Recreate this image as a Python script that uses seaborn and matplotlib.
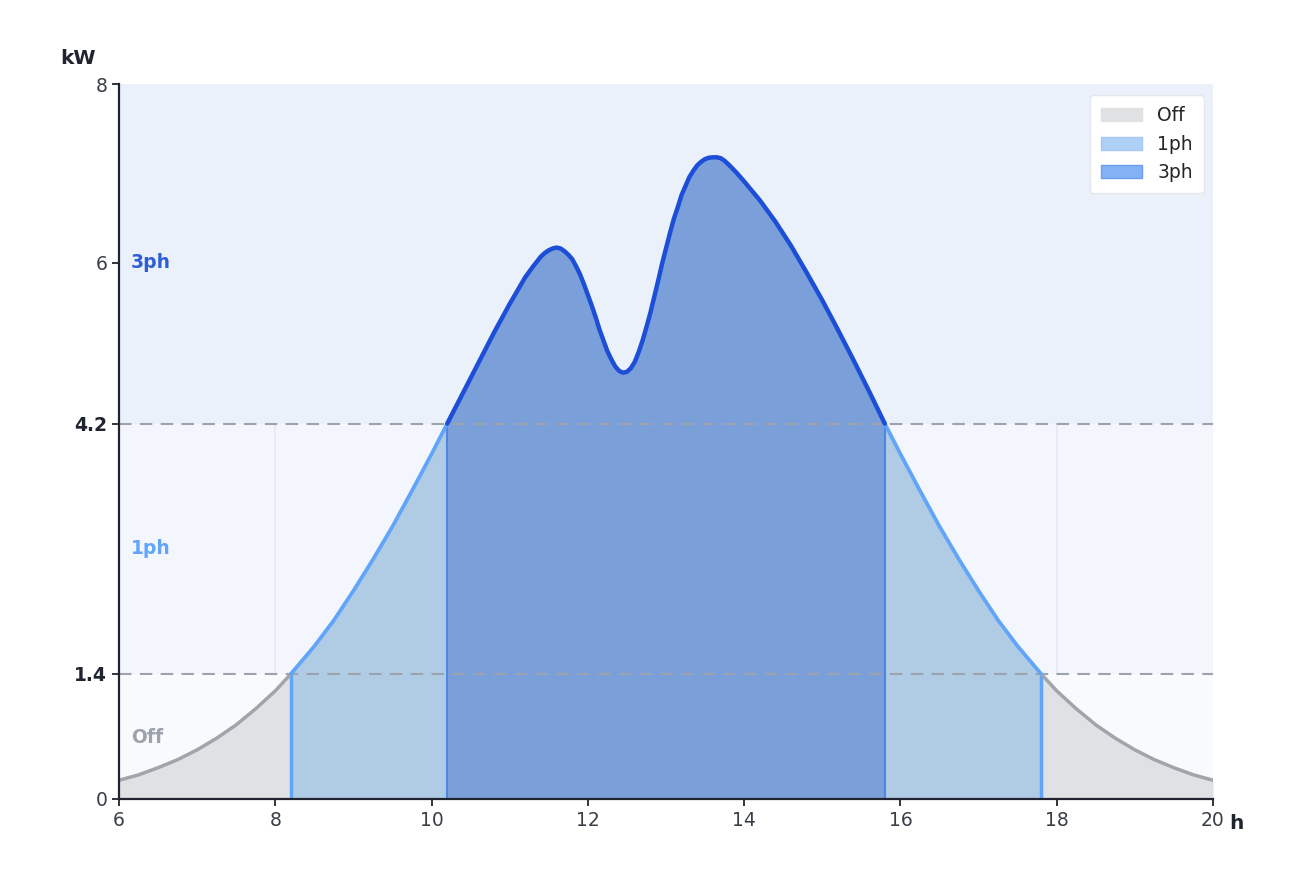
import numpy as np
import pandas as pd
import matplotlib
matplotlib.use('Agg')
import matplotlib.pyplot as plt
from matplotlib.patches import Patch
import seaborn as sns

# PV-Leistung ueber den Tag (h, kW)
hours = [6.0, 6.25, 6.5, 6.75, 7.0, 7.25, 7.5, 7.75, 8.0, 8.2,
         8.5, 8.75, 9.0, 9.25, 9.5, 9.75, 10.0, 10.2,
         10.4, 10.6, 10.8, 11.0, 11.2, 11.3, 11.4, 11.45, 11.5, 11.55, 11.6, 11.65,
         11.7, 11.75, 11.8, 11.85, 11.9, 11.95, 12.0, 12.05, 12.1, 12.15,
         12.2, 12.25, 12.3, 12.35, 12.4, 12.45, 12.5, 12.55, 12.6, 12.65,
         12.7, 12.75, 12.8, 12.85, 12.9, 12.95, 13.0, 13.05, 13.1, 13.15,
         13.2, 13.25, 13.3, 13.35, 13.4, 13.45, 13.5, 13.55, 13.6, 13.65,
         13.7, 13.75, 13.8, 13.9,
         14.0, 14.2, 14.4, 14.6, 14.8, 15.0, 15.2, 15.4, 15.6, 15.8,
         16.0, 16.25, 16.5, 16.75, 17.0, 17.25, 17.5, 17.8,
         18.0, 18.25, 18.5, 18.75, 19.0, 19.25, 19.5, 19.75, 20.0]
power = [0.21, 0.27, 0.35, 0.44, 0.55, 0.68, 0.83, 1.01, 1.21, 1.40,
         1.71, 2.00, 2.33, 2.68, 3.05, 3.45, 3.86, 4.20,
         4.54, 4.88, 5.22, 5.54, 5.84, 5.96, 6.07, 6.11, 6.14, 6.16, 6.17, 6.16,
         6.13, 6.09, 6.04, 5.96, 5.87, 5.76, 5.64, 5.52, 5.39, 5.25,
         5.13, 5.01, 4.92, 4.84, 4.79, 4.77, 4.78, 4.82, 4.89, 5.00,
         5.13, 5.28, 5.44, 5.62, 5.80, 5.99, 6.16, 6.33, 6.49, 6.62,
         6.76, 6.86, 6.96, 7.03, 7.09, 7.13, 7.16, 7.175, 7.18, 7.18,
         7.17, 7.14, 7.10, 7.01,
         6.91, 6.70, 6.46, 6.19, 5.89, 5.58, 5.25, 4.91, 4.56, 4.20,
         3.86, 3.45, 3.05, 2.68, 2.33, 2.00, 1.71, 1.40,
         1.21, 1.01, 0.83, 0.68, 0.55, 0.44, 0.35, 0.27, 0.21]

thr_1ph = 1.4
thr_3ph = 4.2
ytick_vals = [0, 1.4, 4.2, 6, 8]
xtick_vals = [6, 8, 10, 12, 14, 16, 18, 20]
states = ['Off', '1ph', '3ph']

df = pd.DataFrame({'h': hours, 'kW': power})

sns.set_theme(style='white')
plt.rcParams['font.family'] = ['DejaVu Sans']

fig = plt.figure(figsize=(12.96, 8.93), dpi=100)
ax = fig.add_axes([119/1296, 94/893, 1094/1296, 715/893])

# Hintergrundbaender
ax.axhspan(0, thr_1ph, color='#f9fafd', zorder=0, lw=0)
ax.axhspan(thr_1ph, thr_3ph, color='#f3f6fc', zorder=0, lw=0)
ax.axhspan(thr_3ph, 8, color='#ebf1fb', zorder=0, lw=0)
for xv in [8, 18]:
    ax.plot([xv, xv], [thr_1ph, thr_3ph], color='#e6eaf1', lw=1.2, zorder=0.5)

eps = 1e-6
off_l = df[(df.kW <= thr_1ph + eps) & (df.h < 13)]
off_r = df[(df.kW <= thr_1ph + eps) & (df.h > 13)]
ph1_l = df[(df.kW >= thr_1ph - eps) & (df.kW <= thr_3ph + eps) & (df.h < 13)]
ph1_r = df[(df.kW >= thr_1ph - eps) & (df.kW <= thr_3ph + eps) & (df.h > 13)]
ph3 = df[df.kW >= thr_3ph - eps]

# Flaechen
for seg in [off_l, off_r]:
    ax.fill_between(seg.h, 0, seg.kW, color='#dfe1e4', lw=0, zorder=1)
for seg in [ph1_l, ph1_r]:
    ax.fill_between(seg.h, 0, seg.kW, color='#b0cbe4', lw=0, zorder=1)
ax.fill_between(ph3.h, 0, ph3.kW, color='#7b9fd9', lw=0, zorder=1.2)

# Kanten
ax.plot([ph1_l.h.iloc[0]] * 2, [0, ph1_l.kW.iloc[0]], color='#60a5fa', lw=2.5, zorder=2)
ax.plot([ph1_r.h.iloc[-1]] * 2, [0, ph1_r.kW.iloc[-1]], color='#60a5fa', lw=2.5, zorder=2)
ax.plot([ph3.h.iloc[0]] * 2, [0, ph3.kW.iloc[0]], color='#4f86e6', lw=1.5, zorder=2)
ax.plot([ph3.h.iloc[-1]] * 2, [0, ph3.kW.iloc[-1]], color='#4f86e6', lw=1.5, zorder=2)

# Schwellen
for yv in [thr_1ph, thr_3ph]:
    ax.axhline(yv, color='#9ca3af', lw=1.5, dashes=(6, 4), zorder=2.5)

# Linien
for seg in [off_l, off_r]:
    sns.lineplot(data=seg, x='h', y='kW', ax=ax, color='#a1a5aa', lw=2.5, zorder=3,
                 solid_joinstyle='round', solid_capstyle='round')
for seg in [ph1_l, ph1_r]:
    sns.lineplot(data=seg, x='h', y='kW', ax=ax, color='#60a5fa', lw=2.7, zorder=3,
                 solid_joinstyle='round', solid_capstyle='round')
sns.lineplot(data=ph3, x='h', y='kW', ax=ax, color='#1d4ed8', lw=3.2, zorder=3,
             solid_joinstyle='round', solid_capstyle='round')

ax.set_xlim(6, 20)
ax.set_ylim(0, 8)
ax.set_xlabel('')
ax.set_ylabel('')
sns.despine(ax=ax)
for s in ['left', 'bottom']:
    ax.spines[s].set_color('#1f2430')
    ax.spines[s].set_linewidth(1.6)
    ax.spines[s].set_zorder(4)

ax.set_xticks(xtick_vals)
ax.set_xticklabels([str(v) for v in xtick_vals])
ax.set_yticks(ytick_vals)
ax.set_yticklabels([('%g' % v) for v in ytick_vals])
ax.tick_params(axis='both', direction='out', length=5, width=1.3, color='#1f2430',
               labelsize=13.5, labelcolor='#3a3f47', bottom=True, left=True)
for lab, v in zip(ax.get_yticklabels(), ytick_vals):
    if v in (thr_1ph, thr_3ph):
        lab.set_fontweight('bold')
        lab.set_color('#1f2430')

ax.text(-0.037, 1.035, 'kW', transform=ax.transAxes, ha='center', va='center',
        fontsize=14.5, fontweight='bold', color='#1f2430')
ax.text(1.021, -0.034, 'h', transform=ax.transAxes, ha='center', va='center',
        fontsize=14.5, fontweight='bold', color='#1f2430')

ax.text(6.15, 6.0, '3ph', fontsize=13.5, fontweight='bold', color='#2f5fd6', va='center', zorder=5)
ax.text(6.15, 2.8, '1ph', fontsize=13.5, fontweight='bold', color='#60a5fa', va='center', zorder=5)
ax.text(6.15, 0.69, 'Off', fontsize=13.5, fontweight='bold', color='#9ca3af', va='center', zorder=5)

handles = [Patch(facecolor='#e0e1e3', edgecolor='#e0e1e3', label=states[0]),
           Patch(facecolor='#aed0f7', edgecolor='#a4c9f5', label=states[1]),
           Patch(facecolor='#84b1f5', edgecolor='#6a9ef0', label=states[2])]
leg = ax.legend(handles=handles, loc='upper right', fontsize=13.5, frameon=True,
                facecolor='white', edgecolor='#e5e7eb', framealpha=1,
                borderpad=0.6, handlelength=2.2, labelspacing=0.5,
                borderaxespad=0, bbox_to_anchor=(0.9918, 0.9846))
leg.set_zorder(6)

fig.savefig('out.png', dpi=100)
